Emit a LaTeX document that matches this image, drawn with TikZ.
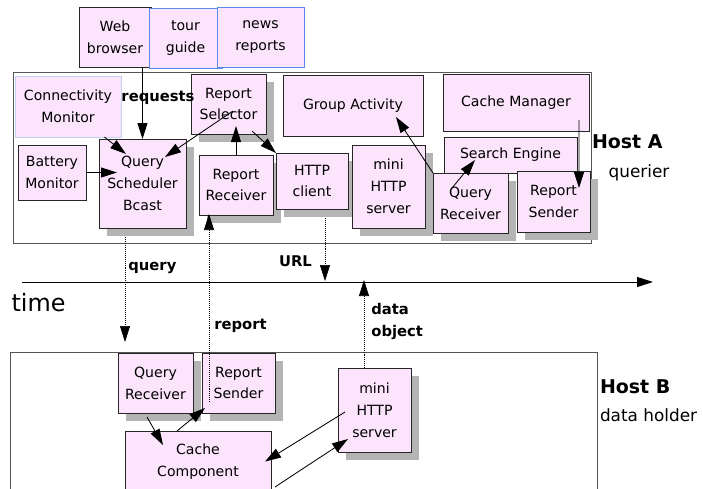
\documentclass[tikz,border=0pt]{standalone}
\usepackage{fontspec}
\setmainfont{DejaVu Sans}
\usepackage{tikz}
\usetikzlibrary{arrows.meta,shadows}
\definecolor{compfill}{HTML}{FCE4FC}
\definecolor{appline}{HTML}{5B8BE6}
\definecolor{monline}{HTML}{C2D2F5}
\definecolor{hostline}{HTML}{555555}
\definecolor{shadowcol}{HTML}{B4B4B4}
\providecommand{\compfont}{\fontsize{10}{15.5}\selectfont}
\providecommand{\msgfont}{\fontsize{10.5}{15.5}\selectfont\bfseries}
\tikzset {
    comp/.style={draw=black!85, fill=compfill, line width=0.6pt,
        inner sep=1pt, outer sep=0pt, align=center, font=\compfont},
    shd/.style={drop shadow={shadow xshift=2mm, shadow yshift=-2mm,
        fill=shadowcol, opacity=1}},
    app/.style={comp, draw=appline},
    host/.style={draw=hostline, line width=0.6pt},
    msg/.style={->, line width=0.6pt},
    net/.style={->, line width=0.45pt, dash pattern=on 0.5pt off 0.9pt},
    lbl/.style={inner sep=1pt, font=\msgfont, align=left},
}

\begin{document}
\begin{tikzpicture}[
        >={Triangle[length=4mm,width=2.5mm]},
        every node/.style={outer sep=0pt},
    ]
    \useasboundingbox (0,0) rectangle (17.575,-12.2);

    % hosts
    \draw[host] (0.325,-1.8) rectangle (14.775,-6.075);
    \draw[host] (0.25,-12.3) |- (14.925,-8.8) -- (14.925,-12.3);

    % applications on top of host A
    \node[comp, minimum width=1.8cm, minimum height=1.5cm] at (2.875,-0.925) (web) {Web\\browser};
    \node[app, minimum width=1.825cm, minimum height=1.5cm] at (4.6375,-0.95) (tour) {tour\\guide};
    \node[app, minimum width=2.175cm, minimum height=1.5cm] at (6.5125,-0.925) (news) {news\\reports};

    % host A components
    \node[comp, draw=monline, minimum width=2.65cm, minimum height=1.525cm] at (1.7,-2.6625) (conn) {Connectivity\\Monitor};
    \node[comp, minimum width=1.7cm, minimum height=1.375cm] at (1.3,-4.3125) (battery) {Battery\\Monitor};
    \node[comp, shd, minimum width=2.175cm, minimum height=2.225cm] at (3.5625,-4.5875) (qsched) {Query\\Scheduler\\Bcast};
    \node[comp, shd, minimum width=1.875cm, minimum height=1.5cm] at (5.7125,-2.6) (rselect) {Report\\Selector};
    \node[comp, shd, minimum width=1.85cm, minimum height=1.5cm] at (5.9,-4.625) (rrecv) {Report\\Receiver};
    \node[comp, shd, minimum width=1.8cm, minimum height=1.4cm] at (7.8,-4.525) (httpc) {HTTP\\client};
    \node[comp, minimum width=3.5cm, minimum height=1.525cm] at (8.825,-2.6375) (group) {Group Activity};
    \node[comp, minimum width=3.65cm, minimum height=1.425cm] at (12.9,-2.5625) (cachem) {Cache Manager};
    \node[comp, minimum width=3.325cm, minimum height=0.9cm] at (12.7625,-3.875) (search) {Search Engine};
    \node[comp, shd, minimum width=1.825cm, minimum height=2.075cm] at (9.7125,-4.6625) (mhttpA) {mini\\HTTP\\server};
    \node[comp, shd, minimum width=1.875cm, minimum height=1.5cm] at (11.7625,-5.075) (qrecvA) {Query\\Receiver};
    \node[comp, shd, minimum width=1.825cm, minimum height=1.525cm] at (13.8375,-5.0375) (rsendA) {Report\\Sender};

    % host B components
    \node[comp, shd, minimum width=1.875cm, minimum height=1.5cm] at (3.8875,-9.575) (qrecvB) {Query\\Receiver};
    \node[comp, shd, minimum width=1.825cm, minimum height=1.5cm] at (5.9625,-9.575) (rsendB) {Report\\Sender};
    \node[comp, shd, minimum width=1.825cm, minimum height=2.1cm] at (9.3625,-10.25) (mhttpB) {mini\\HTTP\\server};
    \node[comp, minimum width=3.65cm, minimum height=1.525cm] at (4.95,-11.5375) (cachec) {Cache\\Component};

    % host names
    \node[anchor=west, inner sep=0pt, font=\fontsize{13.5}{15}\selectfont\bfseries] at (14.8,-3.55) (hostA) {Host A};
    \node[inner sep=0pt, font=\fontsize{12}{14}\selectfont] at (15.975,-4.325) (hostAsub) {querier};
    \node[anchor=west, inner sep=0pt, font=\fontsize{13.5}{15}\selectfont\bfseries] at (15.0,-9.675) (hostB) {Host B};
    \node[anchor=west, inner sep=0pt, font=\fontsize{12}{14}\selectfont] at (15.0,-10.375) (hostBsub) {data holder};

    % time line
    \coordinate (t0) at (0.55,-7.05);
    \coordinate (t1) at (16.325,-7.05);
    \draw[->, line width=0.7pt] (t0) -- (t1);
    \node[font=\fontsize{17}{20}\selectfont] at (0.9625,-7.575) (time) {time};

    % calls inside host A
    \draw[msg] (web.south -| qsched.north) -- (qsched.north);
    \node[lbl] at (3.95,-2.45) (lreq) {requests};
    \draw[msg] (conn.-40) -- ([xshift=6.75mm,yshift=-3.75mm]qsched.north west);
    \draw[msg, shorten >=-4.5mm] (battery.east) -- (battery.east -| qsched.west);
    \draw[msg] ([xshift=1.1mm,yshift=-1.75mm]rselect.center) -- ([xshift=-5.25mm,yshift=-4.5mm]qsched.north east);
    \draw[msg, shorten >=-2mm] (rrecv.north) -- (rrecv.north |- rselect.south);
    \draw[msg] ([xshift=-3.5mm,yshift=0.75mm]rselect.south east) -- (httpc.north west);
    \draw[msg] (qrecvA.north west) -- ([xshift=-6.75mm,yshift=4.75mm]group.south east);
    \draw[msg] ([xshift=4.75mm,yshift=-3.75mm]qrecvA.north west) -- ([xshift=7.75mm,yshift=3.25mm]search.south west);
    \draw[msg] ([xshift=-2.5mm,yshift=2.75mm]cachem.south east) -- ([xshift=-2.75mm,yshift=-4.25mm]rsendA.north east);

    % calls inside host B
    \draw[msg] ([xshift=-2.125mm,yshift=-1mm]qrecvB.south) -- ([xshift=9.5mm,yshift=-3.5mm]cachec.north west);
    \draw[msg] ([xshift=13mm]cachec.north west) -- ([xshift=0.75mm,yshift=1.25mm]rsendB.south west);
    \draw[msg] ([xshift=1.75mm,yshift=-0.5mm]mhttpB.west) -- ([xshift=-1.5mm]cachec.east);
    \draw[msg] ([xshift=1mm,yshift=1.25mm]cachec.south east) -- ([xshift=2.5mm,yshift=-7.25mm]mhttpB.west);

    % messages between the hosts
    \coordinate (qs0) at (3.125,-5.925);
    \coordinate (qs1) at (3.125,-8.55);
    \coordinate (rp0) at (5.225,-10.05);
    \coordinate (rp1) at (5.225,-5.35);
    \coordinate (u0) at (8.125,-5.45);
    \coordinate (u1) at (8.125,-7.025);
    \coordinate (d0) at (9.1,-9.2);
    \coordinate (d1) at (9.1,-7.0);
    \draw[net] (qs0) -- (qs1);
    \draw[net] (rp0) -- (rp1);
    \draw[net] (u0) -- (u1);
    \draw[net] (d0) -- (d1);
    \node[lbl, anchor=west] at (3.175,-6.7) (lquery) {query};
    \node[lbl] at (7.3875,-6.525) (lurl) {URL};
    \node[lbl] at (6.0125,-8.15) (lreport) {report};
    \node[lbl, anchor=west] at (9.25,-8.0375) (ldata) {data\\object};

\end{tikzpicture}
\end{document}
